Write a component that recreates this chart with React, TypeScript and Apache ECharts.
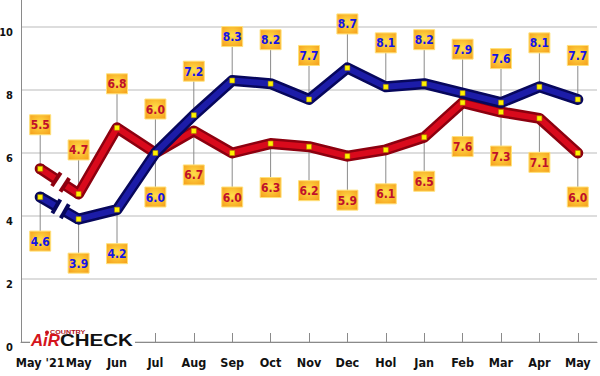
import React, { useEffect, useRef } from "react";
import * as echarts from "echarts";

const CATEGORIES = ["May '21", "May", "Jun", "Jul", "Aug", "Sep", "Oct", "Nov", "Dec", "Hol", "Jan", "Feb", "Mar", "Apr", "May"];
const RED_VALUES = [5.5, 4.7, 6.8, 6.0, 6.7, 6.0, 6.3, 6.2, 5.9, 6.1, 6.5, 7.6, 7.3, 7.1, 6.0];
const BLUE_VALUES = [4.6, 3.9, 4.2, 6.0, 7.2, 8.3, 8.2, 7.7, 8.7, 8.1, 8.2, 7.9, 7.6, 8.1, 7.7];
// -1 = label above the point, 1 = label below
const RED_LABEL_SIDE = [-1, -1, -1, -1, 1, 1, 1, 1, 1, 1, 1, 1, 1, 1, 1];
const BLUE_LABEL_SIDE = [1, 1, 1, 1, -1, -1, -1, -1, -1, -1, -1, -1, -1, -1, -1];
const Y_TICKS = [0, 2, 4, 6, 8, 10];

const RED_DARK = "#8c000f";
const RED_BRIGHT = "#d90a1c";
const BLUE_DARK = "#07075c";
const BLUE_BRIGHT = "#1c1ca8";
const LABEL_OFFSET = 44;

function labelSeries(values: number[], sides: number[], textColor: string, part: "leader" | "box") {
  return {
    type: "custom",
    z: part === "leader" ? 1 : 10,
    silent: true,
    clip: false,
    encode: { x: 0, y: 1 },
    data: values.map((v, i) => [i, v, sides[i]]),
    renderItem: (params: any, api: any) => {
      const p = api.coord([api.value(0), api.value(1)]);
      const side = api.value(2);
      const cy = p[1] + side * LABEL_OFFSET;
      if (part === "leader") {
        return {
          type: "line",
          shape: { x1: p[0], y1: p[1], x2: p[0], y2: cy },
          style: { stroke: "#8a8a8a", lineWidth: 1 },
        };
      }
      return {
        type: "group",
        children: [
          {
            type: "rect",
            shape: { x: p[0] - 10.5, y: cy - 10, width: 21, height: 20 },
            style: {
              fill: new echarts.graphic.RadialGradient(0.5, 0.45, 0.75, [
                { offset: 0, color: "#ffe04a" },
                { offset: 1, color: "#f59a18" },
              ]),
              stroke: "#ffe27a",
              lineWidth: 1,
            },
          },
          {
            type: "text",
            style: {
              text: Number(api.value(1)).toFixed(1),
              x: p[0],
              y: cy + 0.5,
              align: "center",
              verticalAlign: "middle",
              font: 'bold 12px "DejaVu Sans Condensed"',
              fill: textColor,
            },
          },
        ],
      };
    },
  };
}

function stubSeries(values: number[], dark: string, bright: string, z: number) {
  return {
    type: "custom",
    z,
    silent: true,
    clip: false,
    encode: { x: 0, y: 1 },
    data: [[0, values[0], values[1]]],
    renderItem: (params: any, api: any) => {
      const p0 = api.coord([0, api.value(1)]);
      const p1 = api.coord([1, api.value(2)]);
      const dx = p1[0] - p0[0];
      const dy = p1[1] - p0[1];
      const len = Math.hypot(dx, dy);
      const nx = -dy / len;
      const ny = dx / len;
      const a = [p0[0] + dx * 0.42, p0[1] + dy * 0.42];
      const b = [p0[0] + dx * 0.64, p0[1] + dy * 0.64];
      const cap = (c: number[]) => ({
        type: "line",
        shape: { x1: c[0] - nx * 8, y1: c[1] - ny * 8, x2: c[0] + nx * 8, y2: c[1] + ny * 8 },
        style: { stroke: dark, lineWidth: 4, lineCap: "butt" },
      });
      return {
        type: "group",
        children: [
          { type: "circle", shape: { cx: p0[0], cy: p0[1], r: 5.5 }, style: { fill: dark } },
          { type: "line", shape: { x1: p0[0], y1: p0[1], x2: a[0], y2: a[1] }, style: { stroke: dark, lineWidth: 11, lineCap: "butt" } },
          { type: "line", shape: { x1: p0[0], y1: p0[1], x2: a[0], y2: a[1] }, style: { stroke: bright, lineWidth: 6, lineCap: "butt" } },
          cap(a),
          { type: "line", shape: { x1: b[0], y1: b[1], x2: p1[0], y2: p1[1] }, style: { stroke: dark, lineWidth: 11, lineCap: "butt" } },
          { type: "line", shape: { x1: b[0], y1: b[1], x2: p1[0], y2: p1[1] }, style: { stroke: bright, lineWidth: 6, lineCap: "butt" } },
          cap(b),
          {
            type: "rect",
            shape: { x: p0[0] - 2.5, y: p0[1] - 2.5, width: 5, height: 5 },
            style: { fill: "#fff200", stroke: "#a08000", lineWidth: 0.5 },
          },
        ],
      };
    },
  };
}

function lineSeries(values: number[], color: string, width: number, z: number, withSymbol: boolean) {
  return {
    type: "line",
    z,
    silent: true,
    data: values.map((v, i) => (i === 0 ? "-" : v)),
    symbol: withSymbol ? "rect" : "none",
    symbolSize: 5,
    showAllSymbol: true,
    itemStyle: { color: "#fff200", borderColor: "#a08000", borderWidth: 0.5 },
    lineStyle: { color, width, cap: "round", join: "round" },
  };
}

export default function App() {
  const ref = useRef<HTMLDivElement>(null);
  useEffect(() => {
    if (!ref.current) return;
    const chart = echarts.init(ref.current, null, { renderer: "svg" });
    chart.setOption({
      animation: false,
      backgroundColor: "#ffffff",
      grid: { left: 21, right: 3, top: -4.5, bottom: 34, containLabel: false, outerBoundsMode: "none" },
      xAxis: {
        type: "category",
        data: CATEGORIES,
        boundaryGap: true,
        axisLine: { lineStyle: { color: "#8a8a8a", width: 1 } },
        axisTick: { show: true, inside: true, length: 9, alignWithLabel: true, lineStyle: { color: "#8a8a8a" } },
        axisLabel: {
          interval: 0,
          margin: 14,
          color: "#111",
          fontFamily: "DejaVu Sans Condensed",
          fontWeight: "bold",
          fontSize: 12.5,
        },
        splitLine: { show: false },
      },
      yAxis: {
        type: "value",
        min: 0,
        max: 11,
        interval: 2,
        axisLine: { show: true, lineStyle: { color: "#8a8a8a", width: 1 } },
        axisTick: { show: false },
        axisLabel: {
          margin: 8,
          color: "#111",
          fontFamily: "DejaVu Sans Condensed",
          fontWeight: "bold",
          fontSize: 11,
          verticalAlign: "top",
          showMaxLabel: false,
          formatter: (v: number) => (Y_TICKS.includes(v) ? String(v) : ""),
        },
        splitLine: { lineStyle: { color: "#dddddd", width: 2 } },
      },
      graphic: [
        { type: "rect", z: 100, shape: { x: 30, y: 330, width: 105, height: 18 }, style: { fill: "#ffffff" } },
        { type: "circle", z: 101, shape: { cx: 47, cy: 332.5, r: 2 }, style: { fill: "#c8141e" } },
        {
          type: "text",
          z: 101,
          x: 50,
          y: 335,
          scaleX: 1.2,
          style: { text: "COUNTRY", font: 'bold 6px "Liberation Sans"', fill: "#b01020", align: "left", verticalAlign: "bottom" },
        },
        {
          type: "text",
          z: 101,
          x: 31,
          y: 348.5,
          scaleX: 1.05,
          style: { text: "AiR", font: 'italic bold 16px "Liberation Sans"', fill: "#d4141c", align: "left", verticalAlign: "bottom" },
        },
        {
          type: "text",
          z: 101,
          x: 60,
          y: 348.5,
          scaleX: 1.28,
          style: { text: "CHECK", font: 'bold 16px "Liberation Sans"', fill: "#111111", align: "left", verticalAlign: "bottom" },
        },
      ],
      series: [
        labelSeries(RED_VALUES, RED_LABEL_SIDE, "#c0102a", "leader"),
        labelSeries(BLUE_VALUES, BLUE_LABEL_SIDE, "#1414e6", "leader"),
        lineSeries(RED_VALUES, RED_DARK, 11, 2, false),
        lineSeries(RED_VALUES, RED_BRIGHT, 6, 3, true),
        stubSeries(RED_VALUES, RED_DARK, RED_BRIGHT, 3),
        lineSeries(BLUE_VALUES, BLUE_DARK, 11, 4, false),
        lineSeries(BLUE_VALUES, BLUE_BRIGHT, 6, 5, true),
        stubSeries(BLUE_VALUES, BLUE_DARK, BLUE_BRIGHT, 5),
        labelSeries(RED_VALUES, RED_LABEL_SIDE, "#c0102a", "box"),
        labelSeries(BLUE_VALUES, BLUE_LABEL_SIDE, "#1414e6", "box"),
      ],
    });
    return () => chart.dispose();
  }, []);
  return <div ref={ref} style={{ position: "fixed", left: 0, top: 0, width: 600, height: 376 }} />;
}
